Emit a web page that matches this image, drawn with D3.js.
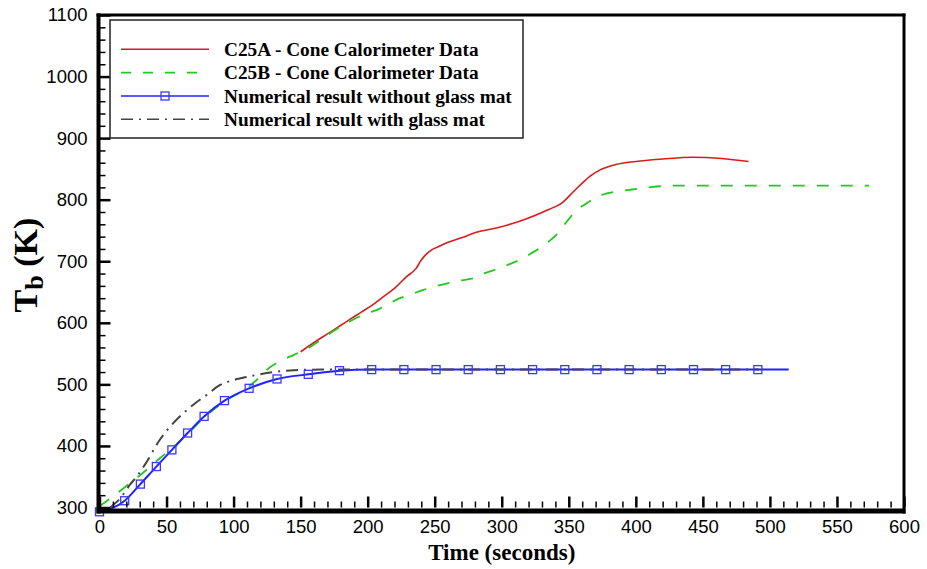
<!DOCTYPE html>
<html>
<head>
<meta charset="utf-8">
<script src="https://cdn.jsdelivr.net/npm/d3@7"></script>
<style>
  html, body { margin: 0; padding: 0; background: #fff; }
  svg { display: block; }
</style>
</head>
<body>
<svg id="chart" width="927" height="569"></svg>
<script>
// ---------------- data ----------------
const xTicks = [0, 50, 100, 150, 200, 250, 300, 350, 400, 450, 500, 550, 600];
const yTicks = [300, 400, 500, 600, 700, 800, 900, 1000, 1100];

const legendLabels = [
  "C25A - Cone Calorimeter Data",
  "C25B - Cone Calorimeter Data",
  "Numerical result without glass mat",
  "Numerical result with glass mat"
];

// C25A - cone calorimeter (red, solid)
const c25aTime = [150, 160, 170, 180, 187, 195, 205, 212, 220, 229, 236, 240, 244, 248, 253, 259, 270, 281, 296, 316, 335, 345, 353, 360, 367, 373, 385, 400, 420, 442, 464, 484];
const c25aTemp = [553, 568, 582, 596, 606, 617, 631, 643, 656, 675, 688, 702, 712, 719, 724, 730, 738, 747, 754, 767, 784, 795, 812, 827, 840, 848, 857, 862, 866, 869, 867, 862];

// C25B - cone calorimeter (green, dashed)
const c25bTime = [0, 10, 20, 30, 45, 55, 65, 78, 93, 110, 120, 125, 137, 145, 155, 165, 172, 180, 189, 200, 207, 215, 224, 232, 241, 250, 261, 270, 280, 288, 295, 302, 310, 316, 322, 328, 335, 343, 348, 355, 363, 375, 385, 395, 410, 420, 435, 460, 500, 540, 574];
const c25bTemp = [302, 318, 335, 352, 380, 398, 418, 446, 472, 494, 513, 524, 540, 548, 558, 572, 583, 594, 605, 616, 621, 630, 640, 646, 653, 659, 665, 669, 673, 681, 686, 692, 699, 705, 713, 721, 732, 748, 763, 781, 794, 808, 813, 816, 820, 822, 823, 823, 823, 823, 823];

// Numerical result without glass mat (blue, square markers)
const blueTime = [0, 18.8, 30.5, 42.4, 54, 65.7, 78, 93.2, 111.6, 132.4, 155.7, 179, 203, 227, 251, 275, 299, 323, 347, 371, 395, 419, 443, 467, 491, 514];
const blueTemp = [293, 311, 338, 366.5, 393.6, 421, 448, 473.6, 493.6, 508.8, 516.3, 522.3, 524, 524, 524, 524, 524, 524, 524, 524, 524, 524, 524, 524, 524, 524];
const blueMarkerCount = 25; // squares on all but the last line point

// Numerical result with glass mat (dark grey, dash-dot)
const glassTime = [8, 16.6, 22.7, 28, 34, 45, 55, 63, 70, 80, 90, 100, 112, 130, 145, 165, 200, 250, 300, 350, 400, 450, 492];
const glassTemp = [300, 318, 337, 351, 370, 410, 437, 454, 467, 483, 499, 507, 513, 520, 523, 524, 524, 524, 524, 524, 524, 524, 524];

// ---------------- chart ----------------
const svg = d3.select("#chart");
const x = d3.scaleLinear().domain([0, 600]).range([99.5, 904]);
const y = d3.scaleLinear().domain([300, 1100]).range([507.5, 15]);

const numFont = "'Liberation Sans', Arial, Helvetica, sans-serif";
const serifFont = "'Liberation Serif', 'Times New Roman', Times, serif";

function zip(ts, vs) { return ts.map((t, i) => [t, vs[i]]); }

const line = d3.line()
  .x(d => x(d[0]))
  .y(d => y(d[1]))
  .curve(d3.curveMonotoneX);

const plot = svg.append("g");

// order of drawing: red, green, blue, dash-dot
plot.append("path")
  .attr("d", line(zip(c25aTime, c25aTemp)))
  .attr("fill", "none").attr("stroke", "#d81c1c").attr("stroke-width", 1.6);

plot.append("path")
  .attr("d", line(zip(c25bTime, c25bTemp)))
  .attr("fill", "none").attr("stroke", "#22c822").attr("stroke-width", 1.8)
  .attr("stroke-dasharray", "12,12");

const bluePts = zip(blueTime, blueTemp);
plot.append("path")
  .attr("d", line(bluePts))
  .attr("fill", "none").attr("stroke", "#2222ff").attr("stroke-width", 2);

plot.append("path")
  .attr("d", line(zip(glassTime, glassTemp)))
  .attr("fill", "none").attr("stroke", "#444").attr("stroke-width", 2)
  .attr("stroke-dasharray", "12,6,2,6");

plot.selectAll("rect.mk")
  .data(bluePts.slice(0, blueMarkerCount))
  .join("rect")
  .attr("class", "mk")
  .attr("x", d => x(d[0]) - 4)
  .attr("y", d => y(d[1]) - 4)
  .attr("width", 8).attr("height", 8)
  .attr("fill", "none").attr("stroke", "#3a3aff").attr("stroke-width", 1.3);

// minor tick values
const xMinor = d3.range(0, 601, 10).filter(v => v % 50 !== 0);
const yMinor = d3.range(300, 1101, 20).filter(v => v % 100 !== 0);

// Y axis
const yAxisMajor = d3.axisLeft(y).tickValues(yTicks).tickSize(-11).tickPadding(12).tickFormat(d3.format("d"));
const gy = svg.append("g").attr("transform", `translate(${x(0)},0)`).call(yAxisMajor);
gy.select(".domain").remove();
gy.selectAll(".tick line").attr("stroke", "#000").attr("stroke-width", 2.5);
gy.selectAll(".tick text").attr("font-family", numFont).attr("font-size", 18.5).attr("fill", "#000");

const gyMinor = svg.append("g").attr("transform", `translate(${x(0)},0)`)
  .call(d3.axisLeft(y).tickValues(yMinor).tickSize(-6).tickFormat(""));
gyMinor.select(".domain").remove();
gyMinor.selectAll(".tick line").attr("stroke", "#000").attr("stroke-width", 1.5);

// X axis
const xAxisMajor = d3.axisBottom(x).tickValues(xTicks).tickSize(-11).tickPadding(12).tickFormat(d3.format("d"));
const gx = svg.append("g").attr("transform", `translate(0,${y(300)})`).call(xAxisMajor);
gx.select(".domain").remove();
gx.selectAll(".tick line").attr("stroke", "#000").attr("stroke-width", 2.5);
gx.selectAll(".tick text").attr("font-family", numFont).attr("font-size", 18.5).attr("fill", "#000");

const gxMinor = svg.append("g").attr("transform", `translate(0,${y(300)})`)
  .call(d3.axisBottom(x).tickValues(xMinor).tickSize(-6).tickFormat(""));
gxMinor.select(".domain").remove();
gxMinor.selectAll(".tick line").attr("stroke", "#000").attr("stroke-width", 1.5);

// frame
const [x0, x1] = x.range();
const [y0, y1] = y.range(); // y0 bottom, y1 top
svg.append("line").attr("x1", x0 - 1).attr("x2", x0 - 1).attr("y1", y1 - 1.5).attr("y2", y0 + 6)
  .attr("stroke", "#000").attr("stroke-width", 4);
svg.append("line").attr("x1", x0 - 3).attr("x2", x1 + 1.5).attr("y1", y0 + 3.5).attr("y2", y0 + 3.5)
  .attr("stroke", "#000").attr("stroke-width", 5);
svg.append("line").attr("x1", x0 - 3).attr("x2", x1 + 1.5).attr("y1", y1).attr("y2", y1)
  .attr("stroke", "#000").attr("stroke-width", 3);
svg.append("line").attr("x1", x1).attr("x2", x1).attr("y1", y1 - 1.5).attr("y2", y0 + 6)
  .attr("stroke", "#000").attr("stroke-width", 3);

// axis titles
svg.append("text")
  .attr("x", (x0 + x1) / 2).attr("y", 560)
  .attr("text-anchor", "middle")
  .attr("font-family", serifFont).attr("font-weight", "bold").attr("font-size", 23)
  .text("Time (seconds)");

const yt = svg.append("text")
  .attr("transform", "translate(37,265) rotate(-90)")
  .attr("text-anchor", "middle")
  .attr("font-family", serifFont).attr("font-weight", "bold").attr("font-size", 34);
yt.append("tspan").text("T");
yt.append("tspan").attr("font-size", 26).attr("dy", 6).text("b");
yt.append("tspan").attr("dy", -6).text(" (K)");

// legend
const lg = svg.append("g");
lg.append("rect").attr("x", 110).attr("y", 20).attr("width", 413).attr("height", 118)
  .attr("fill", "#fff").attr("stroke", "#222").attr("stroke-width", 1.5);

const rowY = [49.3, 72.7, 96, 119.3];
const styles = [
  { stroke: "#d81c1c", dash: null, w: 1.6 },
  { stroke: "#22c822", dash: "10,12", w: 1.8 },
  { stroke: "#2222ff", dash: null, w: 1.6 },
  { stroke: "#444", dash: "12,6,2,6", w: 1.5 }
];
legendLabels.forEach((lab, i) => {
  const ln = lg.append("line").attr("x1", 121).attr("x2", 209).attr("y1", rowY[i]).attr("y2", rowY[i])
    .attr("stroke", styles[i].stroke).attr("stroke-width", styles[i].w);
  if (styles[i].dash) ln.attr("stroke-dasharray", styles[i].dash);
  if (i === 2) {
    lg.append("rect").attr("x", 165 - 4).attr("y", rowY[i] - 4).attr("width", 8).attr("height", 8)
      .attr("fill", "none").attr("stroke", "#3a3aff").attr("stroke-width", 1.3);
  }
  lg.append("text").attr("x", 224).attr("y", rowY[i] + 6.5)
    .attr("font-family", serifFont).attr("font-weight", "bold").attr("font-size", 19.3)
    .attr("fill", "#000").text(lab);
});
</script>
</body>
</html>
